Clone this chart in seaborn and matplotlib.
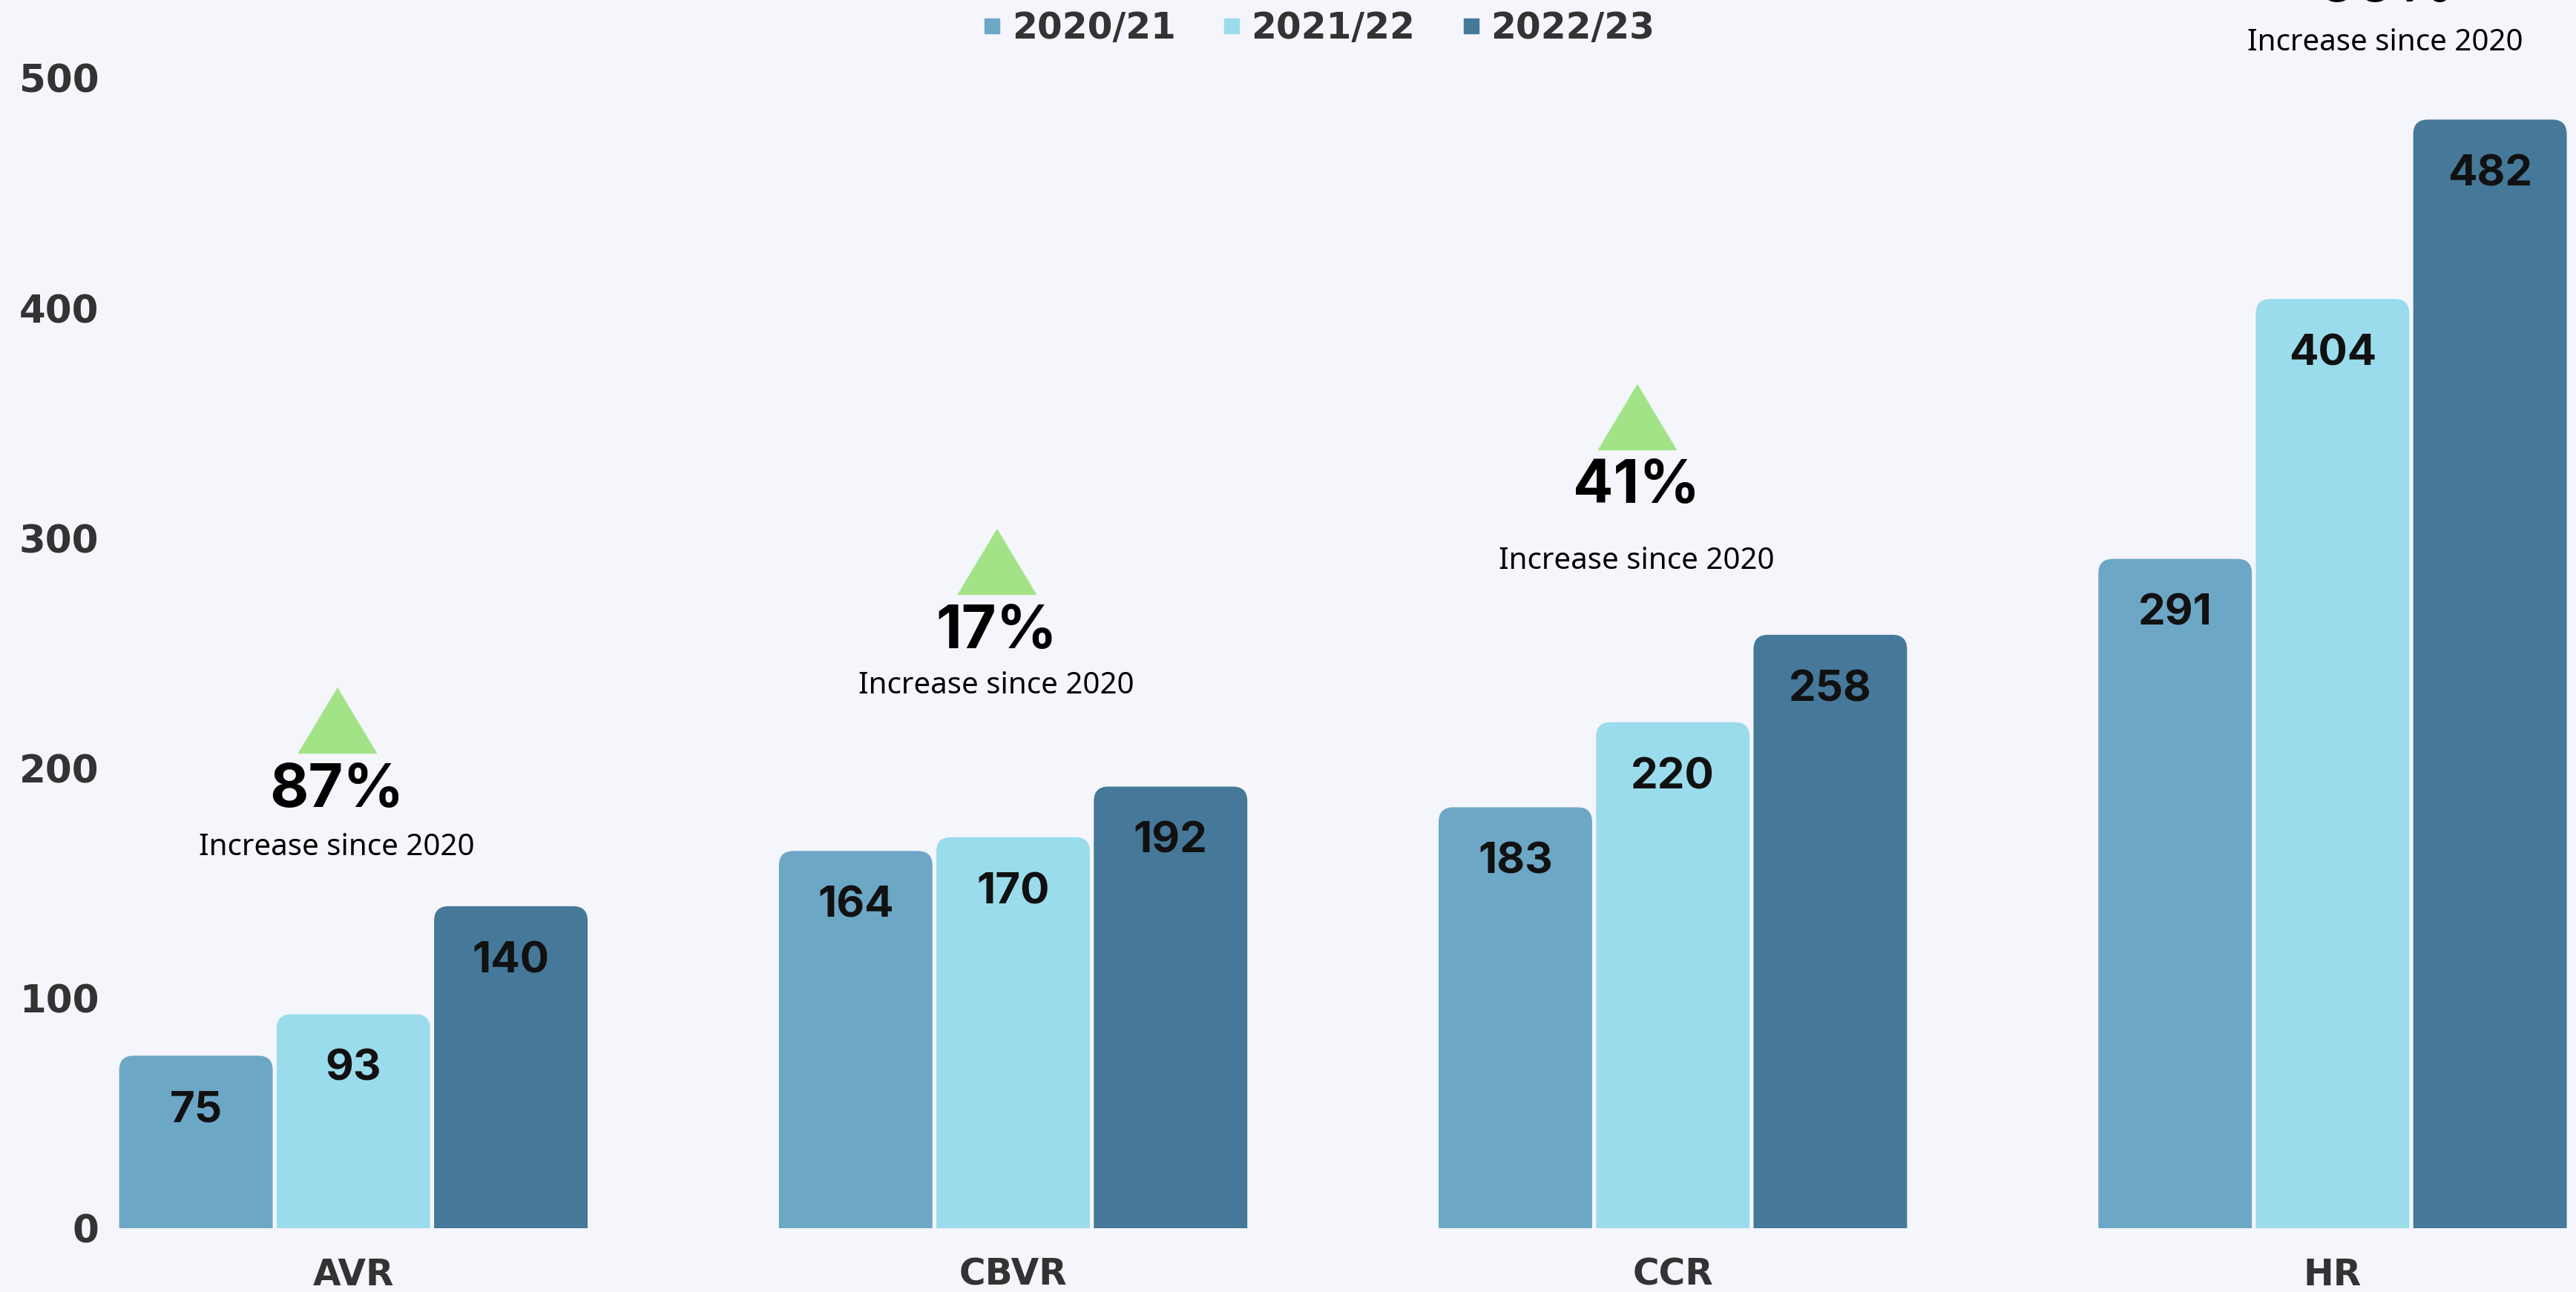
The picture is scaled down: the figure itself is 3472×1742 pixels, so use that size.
import matplotlib
matplotlib.use("Agg")
import matplotlib.pyplot as plt
from matplotlib.lines import Line2D
from matplotlib.patches import FancyBboxPatch
from matplotlib.transforms import offset_copy
import pandas as pd
import seaborn as sns

regions = ["AVR", "CBVR", "CCR", "HR"]
years = ["2020/21", "2021/22", "2022/23"]
counts_2020 = [75, 164, 183, 291]
counts_2021 = [93, 170, 220, 404]
counts_2022 = [140, 192, 258, 482]
increase_pct = [87, 17, 41, 66]

palette = ["#6da7c6", "#9bdcec", "#467899"]
bg = "#f4f6fb"
tri_color = "#a3e388"

# where the "increase" notes sit (layout only)
note_x_shift = [-0.025, -0.025, -0.055, 0.08]
note_y = [190, 259, 322, 540]
note_gap = [55, 52, 72, 55]

df = pd.DataFrame({
    "region": regions * 3,
    "year": [y for y in years for _ in regions],
    "count": counts_2020 + counts_2021 + counts_2022,
})

sns.set_style("white")
tick_font = ["DejaVu Sans"]
value_font = ["Inter", "DejaVu Sans"]
pct_font = ["Inter", "DejaVu Sans"]
note_font = ["Noto Sans", "DejaVu Sans"]

fig = plt.figure(figsize=(34.72, 17.42), dpi=100, facecolor=bg)
ax = fig.add_axes([0.0432, 0.0494, 1 - 0.0432, 1 - 0.0494])
ax.set_facecolor(bg)

sns.barplot(data=df, x="region", y="count", hue="year", palette=palette,
            width=0.716, gap=0.025, saturation=1, linewidth=0, legend=False, ax=ax)

ax.set_ylim(0, 534)
ax.set_xlim(-0.367, 3.369)
sns.despine(ax=ax, left=True, bottom=True)
ax.set_xlabel("")
ax.set_ylabel("")
ax.set_yticks([0, 100, 200, 300, 400, 500])
ax.tick_params(axis="both", length=0, colors="#333333")
ax.tick_params(axis="y", pad=12)
ax.tick_params(axis="x", pad=28)
for lab in ax.get_yticklabels():
    lab.set_fontsize(37)
    lab.set_fontweight("bold")
    lab.set_family(tick_font)
for lab in ax.get_xticklabels():
    lab.set_fontsize(35)
    lab.set_fontweight("bold")
    lab.set_family(tick_font)

# rounded tops on the bars
fig.canvas.draw()
p0 = ax.transData.transform((0, 0))
p1 = ax.transData.transform((1, 1))
aspect = (p1[0] - p0[0]) / (p1[1] - p0[1])
r = 0.022
for cont in ax.containers:
    for bar, val in zip(cont.patches, cont.datavalues):
        x, w, h = bar.get_x(), bar.get_width(), bar.get_height()
        fc = bar.get_facecolor()
        bar.set_visible(False)
        rb = FancyBboxPatch((x, -r * aspect), w, h + r * aspect,
                            boxstyle=f"round,pad=0,rounding_size={r}",
                            mutation_aspect=aspect, facecolor=fc, edgecolor="none")
        ax.add_patch(rb)
        ax.text(x + w / 2, val - 24, f"{int(val)}", ha="center", va="center",
                fontsize=42, fontweight="bold", family=value_font, color="#111111")

tri = [(-0.6, -0.5), (0.6, -0.5), (0, 0.5)]
tri_tr = offset_copy(ax.transData, fig=fig, y=69, units="points")
for i, (pct, dx, ny, gap) in enumerate(zip(increase_pct, note_x_shift, note_y, note_gap)):
    x = i + dx
    ax.text(x, ny, f"{pct}%", ha="center", va="center", fontsize=58,
            fontweight="bold", family=pct_font, color="black", clip_on=False)
    ax.annotate("Increase since 2020", (x, ny), xytext=(0, -gap),
                textcoords="offset points", ha="center", va="center",
                fontsize=29, family=note_font, color="black", annotation_clip=False)
    ax.plot([x], [ny], marker=tri, markersize=76, color=tri_color, linestyle="",
            transform=tri_tr, clip_on=False)

handles = [Line2D([], [], marker="s", linestyle="", markersize=15,
                  markerfacecolor=c, markeredgecolor=c) for c in palette]
fig.legend(handles, years, loc="upper center", bbox_to_anchor=(0.512, 0.992), ncol=3,
           frameon=False, prop={"size": 35, "weight": "bold", "family": tick_font},
           labelcolor="#333333", handlelength=0.5, handletextpad=0.3,
           columnspacing=1.3, borderpad=0, borderaxespad=0)

fig.savefig("out.png", dpi=100, facecolor=bg)
